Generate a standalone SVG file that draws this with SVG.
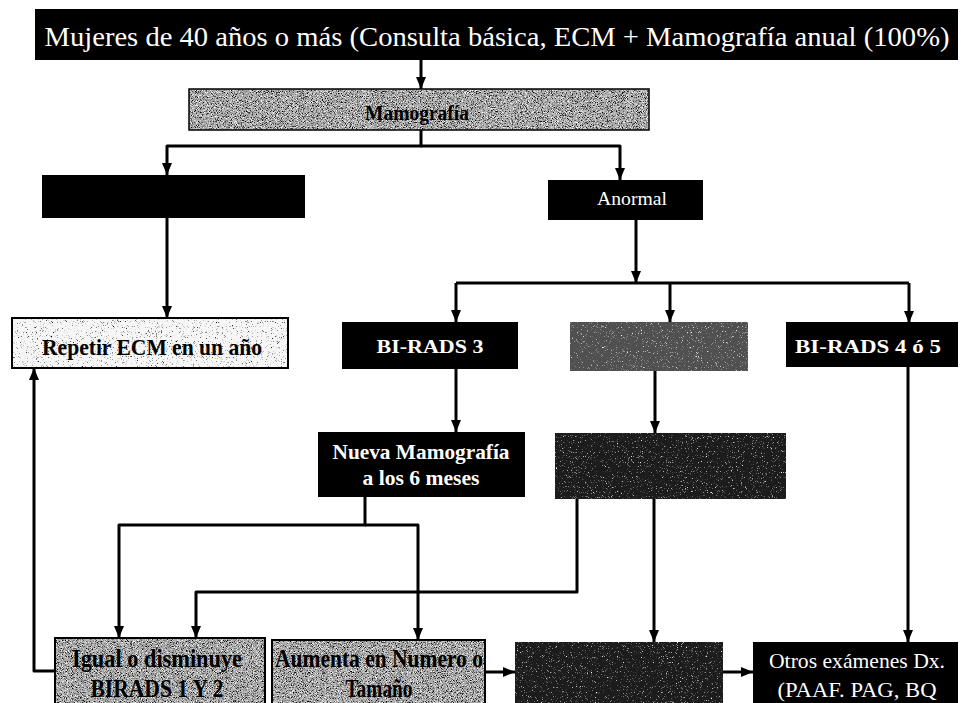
<svg xmlns="http://www.w3.org/2000/svg" width="961" height="703" viewBox="0 0 961 703">
<style>
.box{stroke:#000;stroke-width:1.5}
.blk{fill:#000}
.gray{fill:#a9a9a9}
.dgray{fill:#505050}
.dark{fill:#1c1c1c}
.light{fill:#f6f6f6}
.tw{fill:#fff;font-family:"Liberation Serif","Times New Roman",serif;text-anchor:middle}
.tb{fill:#000;font-family:"Liberation Serif","Times New Roman",serif;font-weight:bold;text-anchor:middle}
.cn{fill:none;stroke:#000;stroke-width:3;stroke-linejoin:round}
</style>
<defs>
<marker id="ah" markerUnits="userSpaceOnUse" markerWidth="13" markerHeight="11" refX="12" refY="5" orient="auto">
<path d="M0,0 L12,5 L0,10 z" fill="#000"/>
</marker>
<filter id="grainG" x="0" y="0" width="1" height="1" color-interpolation-filters="sRGB">
<feTurbulence type="fractalNoise" baseFrequency="1.2" numOctaves="2" seed="7" result="n"/>
<feColorMatrix in="n" type="matrix" values="0 0 0 0 1 0 0 0 0 1 0 0 0 0 1 4 0 0 0 -2.1" result="w"/>
<feColorMatrix in="n" type="matrix" values="0 0 0 0 0 0 0 0 0 0 0 0 0 0 0 -4 0 0 0 1.9" result="b"/>
<feMerge result="m"><feMergeNode in="SourceGraphic"/><feMergeNode in="w"/><feMergeNode in="b"/></feMerge>
<feComposite in="m" in2="SourceGraphic" operator="in"/>
</filter>
<filter id="grainD" x="0" y="0" width="1" height="1" color-interpolation-filters="sRGB">
<feTurbulence type="fractalNoise" baseFrequency="1.2" numOctaves="2" seed="11" result="n"/>
<feColorMatrix in="n" type="matrix" values="0 0 0 0 1 0 0 0 0 1 0 0 0 0 1 4 0 0 0 -2.5" result="w"/>
<feMerge result="m"><feMergeNode in="SourceGraphic"/><feMergeNode in="w"/></feMerge>
<feComposite in="m" in2="SourceGraphic" operator="in"/>
</filter>
<filter id="grainL" x="0" y="0" width="1" height="1" color-interpolation-filters="sRGB">
<feTurbulence type="fractalNoise" baseFrequency="1.2" numOctaves="2" seed="5" result="n"/>
<feColorMatrix in="n" type="matrix" values="0 0 0 0 0 0 0 0 0 0 0 0 0 0 0 -4 0 0 0 1.5" result="b"/>
<feMerge result="m"><feMergeNode in="SourceGraphic"/><feMergeNode in="b"/></feMerge>
<feComposite in="m" in2="SourceGraphic" operator="in"/>
</filter>
</defs>
<rect width="961" height="703" fill="#fff"/>

<g id="connectors">
<path class="cn" d="M421,58 V89" marker-end="url(#ah)"/>
<path class="cn" d="M421,130 V146 H167 V175" marker-end="url(#ah)"/>
<path class="cn" d="M421,146 H620 V180" marker-end="url(#ah)"/>
<path class="cn" d="M167,218 V318" marker-end="url(#ah)"/>
<path class="cn" d="M636,220 V283" marker-end="url(#ah)"/>
<path class="cn" d="M456,283 H909"/>
<path class="cn" d="M456,283 V322" marker-end="url(#ah)"/>
<path class="cn" d="M670,283 V322" stroke-width="2.5" marker-end="url(#ah)"/>
<path class="cn" d="M909,283 V323" marker-end="url(#ah)"/>
<path class="cn" d="M456,369 V432" marker-end="url(#ah)"/>
<path class="cn" d="M655,371 V433" marker-end="url(#ah)"/>
<path class="cn" d="M908,367 V642" stroke-width="2.5" marker-end="url(#ah)"/>
<path class="cn" d="M365,497 V525 H119 V638" marker-end="url(#ah)"/>
<path class="cn" d="M365,525 H418 V640" marker-end="url(#ah)"/>
<path class="cn" d="M577,499 V592 H196 V638" marker-end="url(#ah)"/>
<path class="cn" d="M654,499 V642" stroke-width="2.5" marker-end="url(#ah)"/>
<path class="cn" d="M55,671 H34 V368" stroke-width="2.5" marker-end="url(#ah)"/>
<path class="cn" d="M485,672 H515" marker-end="url(#ah)"/>
<path class="cn" d="M723,672 H753" marker-end="url(#ah)"/>
</g>

<g id="n-title">
<rect class="blk" x="35" y="9" width="923" height="51"/>
<text class="tw" x="497" y="46" font-size="28" textLength="905" lengthAdjust="spacingAndGlyphs">Mujeres de 40 años o más (Consulta básica, ECM + Mamografía anual (100%)</text>
</g>

<g id="n-mamografia">
<rect class="gray" x="189" y="89" width="460" height="41" filter="url(#grainG)"/>
<rect x="189" y="89" width="460" height="41" fill="none" stroke="#000" stroke-width="1.5"/>
<text class="tb" x="417" y="120" font-size="20" textLength="104" lengthAdjust="spacingAndGlyphs">Mamografía</text>
</g>

<g id="n-normal">
<rect class="blk" x="42" y="175" width="263" height="43"/>
</g>

<g id="n-anormal">
<rect class="blk" x="548" y="180" width="155" height="40"/>
<text class="tw" x="632" y="205" font-size="19" textLength="70" lengthAdjust="spacingAndGlyphs">Anormal</text>
</g>

<g id="n-repetir">
<rect class="light" x="12" y="318" width="276" height="50" filter="url(#grainL)"/>
<rect x="12" y="318" width="276" height="50" fill="none" stroke="#000" stroke-width="2"/>
<text class="tb" x="152" y="355" font-size="23" textLength="220" lengthAdjust="spacingAndGlyphs">Repetir ECM en un año</text>
</g>

<g id="n-birads3">
<rect class="blk" x="342" y="322" width="176" height="47"/>
<text class="tw" x="430" y="353" font-size="19" font-weight="bold" textLength="107" lengthAdjust="spacingAndGlyphs">BI-RADS  3</text>
</g>

<g id="n-birads0">
<rect class="dgray" x="570" y="322" width="178" height="49" filter="url(#grainD)"/>
</g>

<g id="n-birads45">
<rect class="blk" x="786" y="322" width="172" height="45"/>
<text class="tw" x="868" y="353" font-size="19" font-weight="bold" textLength="146" lengthAdjust="spacingAndGlyphs">BI-RADS 4 ó 5</text>
</g>

<g id="n-nueva">
<rect class="blk" x="318" y="432" width="207" height="65"/>
<text class="tw" x="421" y="459" font-size="22" font-weight="bold" textLength="177" lengthAdjust="spacingAndGlyphs">Nueva Mamografía</text>
<text class="tw" x="421" y="485" font-size="22" font-weight="bold" textLength="117" lengthAdjust="spacingAndGlyphs">a los 6 meses</text>
</g>

<g id="n-complementario">
<rect class="dark" x="555" y="433" width="231" height="66" filter="url(#grainD)"/>
</g>

<g id="n-igual">
<rect class="gray" x="55" y="638" width="210" height="65" filter="url(#grainG)"/>
<rect x="55" y="638" width="210" height="66" fill="none" stroke="#000" stroke-width="2"/>
<text class="tb" x="157" y="667" font-size="25" textLength="170" lengthAdjust="spacingAndGlyphs">Igual o disminuye</text>
<text class="tb" x="157" y="697" font-size="25" textLength="133" lengthAdjust="spacingAndGlyphs">BIRADS 1 Y 2</text>
</g>

<g id="n-aumenta">
<rect class="gray" x="272" y="640" width="213" height="63" filter="url(#grainG)"/>
<rect x="272" y="640" width="213" height="64" fill="none" stroke="#000" stroke-width="2"/>
<text class="tb" x="379" y="667" font-size="25" textLength="208" lengthAdjust="spacingAndGlyphs">Aumenta en Numero o</text>
<text class="tb" x="379" y="697" font-size="25" textLength="67" lengthAdjust="spacingAndGlyphs">Tamaño</text>
</g>

<g id="n-biopsia">
<rect class="dark" x="515" y="642" width="208" height="61" filter="url(#grainD)"/>
</g>

<g id="n-otros">
<rect class="blk" x="753" y="642" width="205" height="61"/>
<text class="tw" x="857" y="668" font-size="21" textLength="176" lengthAdjust="spacingAndGlyphs">Otros exámenes Dx.</text>
<text class="tw" x="857" y="697" font-size="21" textLength="159" lengthAdjust="spacingAndGlyphs">(PAAF. PAG, BQ</text>
</g>
</svg>
